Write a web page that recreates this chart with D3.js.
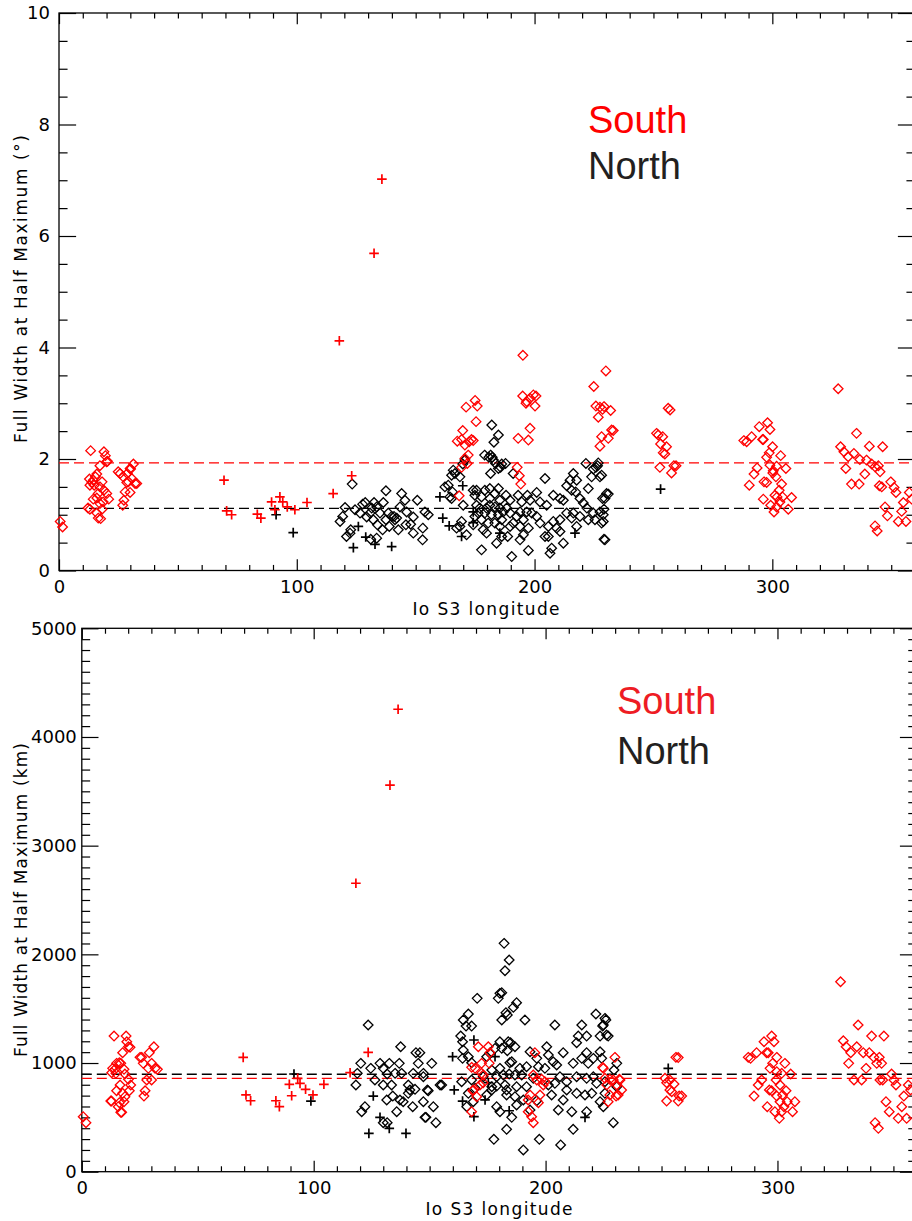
<!DOCTYPE html>
<html><head><meta charset="utf-8">
<script src="https://cdn.jsdelivr.net/npm/d3@7"></script>
<style>body{margin:0;background:#fff}</style>
</head><body><svg id="c" width="912" height="1221"></svg>
<script>
// ---------- tick labels / constants ----------
const lonTicks = [0, 100, 200, 300];
const topYTicks = [0, 2, 4, 6, 8, 10];
const botYTicks = [0, 1000, 2000, 3000, 4000, 5000];
const legendLabels = ["South", "North"];
const topMeans = [1.93, 1.115];   // south, north (deg)
const botMeans = [859, 896];      // south, north (km)

// ---------- top panel data: [Io S3 longitude, FWHM (deg)] ----------
const topSouthDiamond = [
[0.5,0.88],[1.5,0.78],
[13.3,2.15],[18.9,2.13],[19.5,2.06],[20.0,1.95],[20.4,1.96],[17.2,1.88],[12.8,1.64],[14.4,1.62],[13.9,1.58],[15.9,1.73],[15.3,1.68],[13.0,1.53],[14.8,1.53],[18.1,1.59],[18.9,1.44],[20.1,1.38],[17.2,1.50],[16.5,1.38],[20.9,1.28],[14.4,1.28],[17.2,1.20],[18.6,1.23],[12.2,1.12],[13.0,1.10],[15.9,1.03],[16.5,0.94],[17.5,0.93],[15.9,1.30],[18.1,1.10],
[24.9,1.77],[25.7,1.74],[27.0,1.68],[28.7,1.74],[29.9,1.83],[31.3,1.91],[29.2,1.59],[30.6,1.65],[32.0,1.56],[32.7,1.56],[28.5,1.58],[27.8,1.41],[29.9,1.40],[27.3,1.26],[26.8,1.17],[30.1,1.82],
[171.2,2.93],[175.0,3.05],[175.9,2.95],[175.4,2.67],[169.8,2.51],[167.5,2.32],[169.3,2.35],[170.7,2.25],[172.5,2.31],[173.5,2.35],[174.2,2.33],[172.1,2.07],[170.7,2.01],[171.7,1.92],[169.3,1.85],[168.3,1.34],
[195.0,3.13],[196.7,3.03],[198.1,3.09],[199.5,3.15],[200.6,3.13],[196.4,3.00],[200.2,2.95],[198.1,2.55],[193.1,2.37],[197.4,2.34],[192.7,1.85],[193.6,1.70],[194.2,1.55],[195.1,3.86],
[224.9,3.30],[230.0,3.58],[225.8,2.95],[227.5,2.93],[229.2,2.94],[228.6,2.89],[232.0,2.87],[226.8,2.75],[232.4,2.52],[233.1,2.51],[231.0,2.37],[228.2,2.40],[227.5,2.23],
[251.3,2.46],[252.0,2.43],[253.9,2.40],[253.0,2.27],[255.5,2.22],[254.1,2.11],[254.8,2.09],[256.2,2.91],[257.0,2.88],[252.7,1.85],[258.6,1.88],[259.5,1.88],[257.6,1.75],
[288.0,2.33],[289.2,2.31],[291.3,2.40],[294.5,2.58],[295.9,2.35],[296.2,2.35],[298.0,2.65],[299.0,2.53],[300.1,2.22],[298.7,2.11],[297.6,2.03],[303.5,2.06],[299.0,1.89],[300.4,1.79],[300.2,1.75],[301.8,1.87],[305.7,1.83],[293.6,1.84],[292.3,1.73],[290.3,1.53],[296.5,1.59],[297.6,1.58],[301.5,1.68],[303.9,1.55],[302.9,1.44],[301.1,1.35],[302.0,1.32],[304.3,1.32],[308.1,1.31],[296.2,1.28],[299.3,1.17],[303.2,1.23],[301.8,1.14],[300.7,1.05],[306.7,1.10],
[327.7,3.26],[328.7,2.22],[330.1,2.13],[331.9,2.04],[330.9,1.83],[333.3,1.55],[334.3,2.10],[335.4,2.46],[336.8,1.99],[336.5,1.55],[338.9,1.73],[339.6,1.98],[340.8,2.23],[341.8,1.91],[343.2,1.86],[344.6,1.88],[345.3,1.77],[345.0,1.52],[346.0,1.50],[346.4,2.22],[343.2,0.80],[344.1,0.71],[347.4,1.14],[348.4,0.98],[349.8,1.59],[351.2,1.49],[352.0,1.40],[353.0,0.88],[354.4,1.06],[355.1,1.22],[356.2,0.88],[357.6,1.40],[358.6,1.28]
];
const topSouthPlus = [
[69.4,1.62],[70.5,1.07],[72.6,1.00],[83.4,1.01],[84.9,0.94],[89.4,1.23],[90.8,1.09],[92.9,1.32],[94.1,1.23],[96.0,1.14],[99.2,1.09],[104.3,1.22],[115.3,1.38],[117.9,4.12],[123.1,1.70],[132.5,5.69],[135.8,7.02]
];
const topNorthPlus = [
[91.3,1.00],[98.5,0.68],[123.8,0.41],[125.9,0.79],[129.0,0.60],[132.9,0.47],[139.9,0.43],[160.2,1.32],[161.4,0.94],[164.1,0.80],[169.8,1.52],[169.3,0.61],[174.2,1.05],[174.2,0.86],[185.4,0.67],[217.0,0.67],[253.0,1.46]
];
const topNorthDiamond = [
[123.3,1.55],[118.2,0.88],[119.3,0.97],[120.3,1.13],[120.9,0.61],[122.7,0.73],[124.5,1.09],[126.6,1.03],[127.7,1.19],[128.8,1.22],[130.8,1.03],[131.5,1.12],[132.5,1.22],[133.6,1.14],[135.0,1.03],[136.4,1.22],[137.5,1.43],[138.5,1.03],[139.9,0.97],[140.9,0.97],[142.0,0.94],[143.4,1.14],[144.1,1.38],[145.5,1.26],[146.2,1.05],[147.9,0.83],[149.0,0.96],[150.7,1.26],[149.0,0.67],[152.9,0.55],[153.9,1.05],[155.3,1.00],[133.9,0.82],[136.1,0.73],[133.6,0.58],[131.1,0.56],[138.9,0.79],[142.7,0.73],[132.2,0.91],[129.4,0.96],[137.5,0.91],[141.3,0.91],[145.9,0.82],[122.4,0.67],
[182.0,2.61],[184.8,2.43],[182.9,2.30],[181.5,2.07],[180.8,2.03],[182.2,2.03],[182.7,1.98],[183.6,1.92],[185.7,1.85],[187.8,1.92],[184.8,1.83],[181.5,1.74],[191.0,1.74],[170.7,1.98],[169.8,1.91],[165.8,1.80],[165.1,1.71],[166.5,1.74],[168.6,1.68],[163.7,1.53],[164.4,1.32],[165.5,1.41],[170.0,1.17],[169.3,0.88],[167.2,0.76],[168.6,0.79],[171.4,0.64],[153.0,0.76],[177.7,0.37],[190.4,0.25],[197.4,0.36],[206.5,0.31],[204.4,1.65],[212.1,0.49],[229.6,0.55],[221.6,1.92],[225.8,1.85],[226.8,1.93],[224.7,1.82],[227.5,1.68],[224.0,1.68],[216.3,1.74],[217.7,1.62],[214.9,1.62],[213.5,1.52],[215.6,1.44],[222.6,1.47],[217.3,1.41],[231.0,1.37],[228.6,1.29],[207.9,1.35],[200.9,1.40],[197.0,1.35],[193.1,1.35],[188.0,1.35],[184.8,1.47],[183.3,1.38],[181.2,1.47],[179.1,1.44],[175.6,1.44],[174.9,1.35],[177.7,1.32],[181.2,1.29],[185.4,1.26],[189.7,1.26],[194.6,1.23],[198.1,1.26],[202.3,1.23],[205.1,1.17],[210.7,1.29],[212.1,1.26],[219.1,1.29],[220.5,1.21],[222.0,1.12],[224.7,1.03],[227.5,1.05],[228.9,1.00],[225.4,0.91],[228.2,0.85],[222.6,0.91],[219.1,0.97],[216.3,1.03],[213.5,1.03],[210.7,0.91],[207.9,0.88],[205.8,0.79],[209.3,0.76],[210.7,0.70],[205.8,0.61],[202.3,0.85],[200.9,0.97],[198.8,1.03],[196.7,1.05],[193.9,1.05],[192.5,0.97],[195.3,0.91],[193.9,0.79],[195.3,0.64],[193.9,0.55],[197.4,0.76],[189.7,1.03],[188.3,1.12],[186.8,1.05],[185.4,1.12],[183.3,1.14],[181.2,1.17],[179.8,1.12],[177.0,1.12],[175.6,1.17],[176.3,1.03],[179.1,1.03],[181.9,1.00],[184.8,1.00],[186.2,0.91],[183.3,0.85],[180.5,0.85],[177.7,0.91],[178.4,0.73],[179.8,0.67],[185.4,0.79],[186.2,0.61],[184.0,0.49],[189.7,0.79],[191.0,0.85],[188.7,0.61],[174.2,0.82],[174.9,0.97],[204.4,0.61],[207.2,0.40],[215.6,0.94],[217.7,0.79],
[179.0,2.07],[186.2,1.91],[226.5,1.88],[229.6,1.29],[229.2,0.56],[228.2,1.71],[230.3,1.38],[229.2,1.10],[228.9,0.88],[162.3,1.50],[165.1,1.29],[174.2,1.44]
];

// ---------- bottom panel data: [Io S3 longitude, FWHM (km)] ----------
const botSouthDiamond = [
[0.6,506],[1.8,451],
[13.9,1248],[19.1,1248],[19.4,1196],[20.1,1150],[20.8,1144],[17.6,1095],[13.3,951],[14.3,942],[12.9,911],[15.0,997],[16.2,1003],[16.8,997],[18.2,942],[14.7,905],[18.6,899],[20.1,850],[21.1,798],[20.5,745],[16.5,798],[15.0,745],[17.6,721],[18.6,690],[12.5,650],[12.8,650],[16.2,635],[18.2,644],[15.7,598],[16.8,546],[17.2,546],
[25.1,1052],[25.8,1052],[26.5,997],[29.1,1095],[31.1,1150],[28.7,951],[30.1,997],[31.6,951],[32.6,942],[28.0,844],[30.1,844],[27.3,745],[26.8,696],
[171.0,1150],[175.3,1150],[176.0,1095],[168.1,960],[169.6,951],[172.4,905],[173.1,890],[175.7,997],[172.4,997],[171.7,798],[168.6,745],[170.3,690],[168.1,552],[168.8,752],[173.1,819],
[195.4,1095],[194.7,890],[196.2,844],[198.3,850],[199.7,828],[199.0,798],[193.3,706],[197.6,706],[196.9,635],[192.5,552],[194.0,506],[194.7,451],[192.5,660],
[224.6,960],[229.9,1052],[225.6,859],[227.7,850],[229.2,844],[231.8,850],[230.7,798],[232.8,752],[231.3,706],[227.7,706],[227.0,644],[224.9,951],[232.1,844],[230.4,696],[226.4,798],
[256.2,1052],[257.2,1050],[251.5,859],[253.6,844],[252.2,819],[255.4,807],[253.6,752],[254.4,736],[257.6,696],[258.7,696],[252.2,650],[257.2,650],
[287.4,1052],[288.4,1043],[291.0,1095],[294.2,1196],[295.3,1095],[296.0,1095],[297.5,1248],[298.5,1196],[299.7,1052],[297.9,997],[303.2,997],[296.8,951],[299.7,920],[301.8,905],[305.7,899],[293.2,844],[299.4,844],[301.1,798],[291.7,798],[296.5,752],[297.5,745],[289.9,696],[299.7,696],[302.2,706],[303.7,745],[301.1,644],[304.2,644],[307.5,644],[295.6,598],[302.8,598],[298.9,552],[301.8,552],[306.5,552],[300.8,491],
[327.2,1748],[328.4,1205],[329.6,1150],[331.6,1095],[330.7,997],[333.0,844],[334.2,1150],[334.8,1350],[336.3,844],[337.0,1095],[338.2,951],[339.6,1095],[340.6,1248],[341.6,1052],[342.8,997],[343.9,1052],[344.9,997],[345.9,1248],[344.2,844],[345.4,844],[349.2,899],[350.2,844],[351.1,798],[346.8,644],[348.2,552],[342.1,451],[343.5,399],[352.1,491],[353.6,598],[354.5,696],[355.7,491],[356.4,798],[357.4,752]
];
const botSouthPlus = [
[69.6,1052],[70.8,706],[72.8,653],[83.7,653],[85.2,598],[89.5,804],[90.5,699],[93.1,859],[94.1,813],[96.5,758],[99.7,706],[104.4,804],[115.7,911],[118.2,2654],[123.5,1098],[132.9,3557],[136.4,4255]
];
const botNorthPlus = [
[91.5,899],[98.8,650],[123.8,353],[125.7,696],[128.6,500],[132.6,399],[139.8,353],[159.9,1058],[160.6,752],[164.2,650],[169.1,1212],[169.1,506],[173.9,660],[175.3,819],[178.2,1058],[184.3,561],[217.0,500],[252.9,951]
];
const botNorthDiamond = [
[123.5,1350],[120.3,997],[118.8,905],[118.2,798],[124.6,951],[126.4,844],[128.6,997],[130.0,798],[131.7,899],[132.6,997],[133.6,798],[135.1,905],[136.9,997],[137.5,1150],[137.9,905],[134.1,696],[137.2,660],[138.6,644],[140.8,798],[141.5,752],[143.7,758],[142.9,905],[144.1,1095],[145.1,997],[147.3,905],[149.0,752],[150.9,997],[151.6,598],[152.7,451],[148.0,500],[142.7,598],[135.8,552],[131.7,451],[130.0,451],[122.1,598],[120.7,552],[131.5,660],[155.2,798],[140.8,721],[130.0,951],[145.8,1095],[147.3,874],[154.5,798],[149.4,745],[147.3,644],[148.4,500],
[182.1,2101],[184.3,1948],[182.5,1849],[170.5,1595],[181.1,1647],[180.3,1641],[179.6,1595],[187.5,1555],[186.1,1512],[182.9,1463],[183.5,1442],[181.1,1396],[191.1,1396],[166.7,1451],[164.5,1396],[165.7,1340],[168.1,1340],[163.4,1248],[164.2,1196],[204.0,1350],[215.6,1350],[221.7,1451],[226.0,1396],[224.6,1340],[214.1,1248],[217.7,1248],[213.4,1187],[223.5,1248],[227.0,1248],[180.3,1196],[183.9,1196],[184.9,1187],[186.8,1150],[178.2,1135],[181.1,1135],[193.3,1104],[200.5,1150],[207.6,1095],[201.2,1074],[196.2,1043],[203.3,1012],[204.8,982],[217.7,1095],[215.6,1043],[211.9,997],[218.4,997],[220.6,1043],[224.2,1043],[230.7,997],[164.2,1043],[166.7,1058],[168.1,1003],[184.6,1003],[185.4,1012],[180.3,951],[176.8,936],[188.9,951],[191.8,966],[196.9,966],[199.7,951],[173.1,874],[178.9,874],[181.8,890],[184.3,899],[186.8,890],[189.7,890],[194.7,859],[206.2,874],[209.1,828],[213.4,874],[217.7,859],[220.6,874],[222.0,813],[225.6,828],[163.8,828],[168.1,844],[169.6,767],[176.8,782],[178.9,788],[182.5,798],[183.2,752],[187.5,782],[191.8,782],[201.2,798],[204.0,813],[209.1,752],[213.4,721],[217.0,706],[219.9,721],[223.5,644],[230.7,782],[166.7,721],[174.6,706],[176.8,752],[183.2,706],[186.8,690],[190.4,660],[196.2,653],[202.6,706],[207.6,660],[211.3,552],[217.7,552],[166.0,598],[168.8,644],[178.9,598],[180.3,552],[187.5,614],[185.4,500],[193.3,568],[205.5,568],[183.2,390],[177.7,298],[190.4,200],[197.3,298],[206.5,246],[211.9,390],[229.2,451],[176.0,1089],[164.5,1120],[174.6,1058],[183.5,1113],
[225.6,1411],[226.3,1258],[224.9,1350],[223.5,1104],[229.5,936],[225.6,721],[224.9,598]
];

// ---------- drawing ----------
const svg = d3.select("#c");
svg.append("rect").attr("width", 912).attr("height", 1221).attr("fill", "#fff");
const tickFont = "DejaVu Sans, sans-serif";
const legendFont = "Liberation Sans, Arial, sans-serif";
const RED = "#ff0000", BLACK = "#000000";
const diamondPath = "M0,-4.8L4.8,0L0,4.8L-4.8,0Z";
const plusPath = "M-4.8,0H4.8M0,-4.8V4.8";

function panel(o) {
  const x = d3.scaleLinear().domain([0, 360]).range([o.x0, o.x1]);
  const y = d3.scaleLinear().domain([0, o.ymax]).range([o.y0, o.y1]);
  const g = svg.append("g");
  const W = o.x1 - o.x0, H = o.y0 - o.y1;
  const tx = 0.02 * H, ty = 0.02 * W;
  const xMinor = d3.range(0, 361, 10).filter(v => v % 100 !== 0);
  const nMinor = Math.round(o.ymax / o.ystep);
  const yMinor = d3.range(0, nMinor + 1).map(i => +(i * o.ystep).toFixed(6)).filter(v => !o.yTicks.includes(v));
  const style = sel => {
    sel.select(".domain").remove();
    sel.selectAll("line").attr("stroke", "#000").attr("stroke-width", 1.2);
    sel.selectAll("text").attr("font-family", tickFont).attr("font-size", 18).attr("fill", "#000");
  };
  const fmt = d3.format("d");
  g.append("g").attr("transform", `translate(0,${o.y0})`)
    .call(d3.axisBottom(x).tickValues(lonTicks).tickSize(-tx).tickPadding(10).tickFormat(fmt)).call(style);
  g.append("g").attr("transform", `translate(0,${o.y0})`)
    .call(d3.axisBottom(x).tickValues(xMinor).tickSize(-tx / 2).tickFormat("")).call(style);
  g.append("g").attr("transform", `translate(0,${o.y1})`)
    .call(d3.axisTop(x).tickValues(lonTicks).tickSize(-tx).tickFormat("")).call(style);
  g.append("g").attr("transform", `translate(0,${o.y1})`)
    .call(d3.axisTop(x).tickValues(xMinor).tickSize(-tx / 2).tickFormat("")).call(style);
  g.append("g").attr("transform", `translate(${o.x0},0)`)
    .call(d3.axisLeft(y).tickValues(o.yTicks).tickSize(-ty).tickPadding(o.pad).tickFormat(fmt)).call(style);
  g.append("g").attr("transform", `translate(${o.x0},0)`)
    .call(d3.axisLeft(y).tickValues(yMinor).tickSize(-ty / 2).tickFormat("")).call(style);
  g.append("g").attr("transform", `translate(${o.x1},0)`)
    .call(d3.axisRight(y).tickValues(o.yTicks).tickSize(-ty).tickFormat("")).call(style);
  g.append("g").attr("transform", `translate(${o.x1},0)`)
    .call(d3.axisRight(y).tickValues(yMinor).tickSize(-ty / 2).tickFormat("")).call(style);
  g.append("rect").attr("x", o.x0).attr("y", o.y1).attr("width", W).attr("height", H)
    .attr("fill", "none").attr("stroke", "#000").attr("stroke-width", 1.3);

  // mean lines
  [[o.means[0], RED], [o.means[1], BLACK]].forEach(([v, c]) => {
    g.append("line").attr("x1", x(0)).attr("x2", x(360)).attr("y1", y(v)).attr("y2", y(v))
      .attr("stroke", c).attr("stroke-width", 1.4).attr("stroke-dasharray", "10,5");
  });

  const draw = (data, path, color, sw) => {
    g.append("g").selectAll("path").data(data).join("path")
      .attr("d", path)
      .attr("transform", d => `translate(${x(d[0])},${y(d[1])})`)
      .attr("fill", "none").attr("stroke", color).attr("stroke-width", sw);
  };
  draw(o.nd, diamondPath, BLACK, 1.3);
  draw(o.np, plusPath, BLACK, 1.7);
  draw(o.sd, diamondPath, RED, 1.3);
  draw(o.sp, plusPath, RED, 1.7);

  // axis titles
  g.append("text").attr("x", o.xtX).attr("y", o.xtY).attr("text-anchor", "middle")
    .attr("font-family", tickFont).attr("font-size", 17).attr("textLength", 147).attr("lengthAdjust", "spacing")
    .text("Io S3 longitude");
  g.append("text").attr("transform", `translate(${o.ytX},${o.ytY}) rotate(-90)`).attr("text-anchor", "middle")
    .attr("font-family", tickFont).attr("font-size", 17).attr("textLength", o.ytLen).attr("lengthAdjust", "spacing")
    .text(o.ytitle);

  // legend
  g.append("text").attr("x", o.legX).attr("y", o.legY[0]).attr("font-family", legendFont)
    .attr("font-size", 38).attr("fill", o.southColor).text(legendLabels[0]);
  g.append("text").attr("x", o.legX).attr("y", o.legY[1]).attr("font-family", legendFont)
    .attr("font-size", 38).attr("fill", "#231f20").text(legendLabels[1]);
}

panel({
  x0: 59, x1: 915, y0: 570.5, y1: 13, ymax: 10, ystep: 0.5, yTicks: topYTicks, pad: 9,
  means: topMeans, sd: topSouthDiamond, sp: topSouthPlus, nd: topNorthDiamond, np: topNorthPlus,
  xtX: 486, xtY: 615, ytX: 27, ytY: 289, ytLen: 308, ytitle: "Full Width at Half Maximum (°)",
  legX: 588, legY: [133, 179], southColor: "#ff0000"
});
panel({
  x0: 81.8, x1: 916.6, y0: 1171.7, y1: 628.3, ymax: 5000, ystep: 100, yTicks: botYTicks, pad: 5,
  means: botMeans, sd: botSouthDiamond, sp: botSouthPlus, nd: botNorthDiamond, np: botNorthPlus,
  xtX: 499, xtY: 1215, ytX: 27, ytY: 900, ytLen: 314, ytitle: "Full Width at Half Maximum (km)",
  legX: 617, legY: [714, 764], southColor: "#ee1c24"
});
</script>
</body></html>
